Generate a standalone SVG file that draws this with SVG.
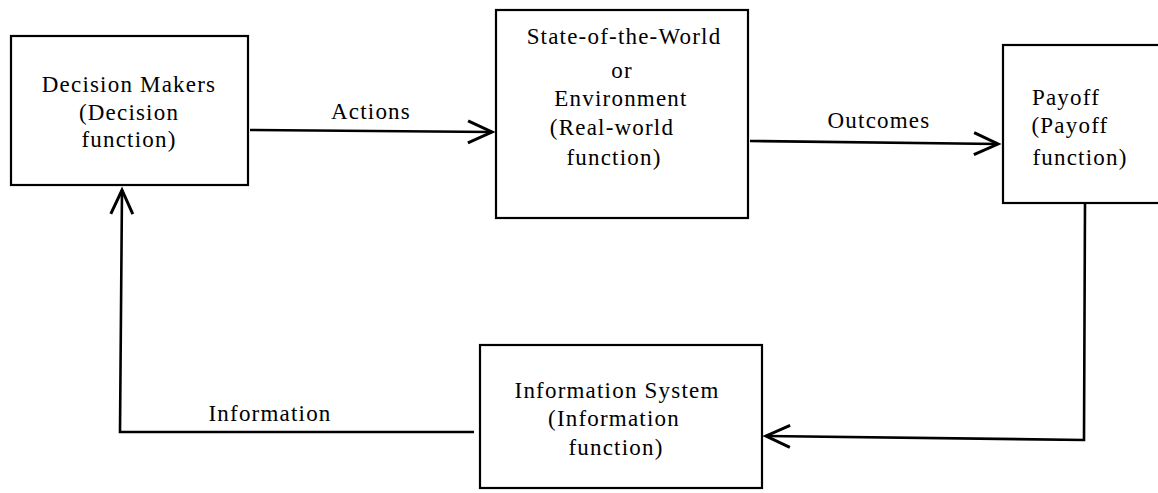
<svg xmlns="http://www.w3.org/2000/svg" width="1158" height="493" viewBox="0 0 1158 493">
<defs>
<style>
.box{fill:#fff;stroke:#000;stroke-width:2.2}
.t{font-family:"Liberation Serif","Times New Roman",serif;font-size:23px;fill:#000;text-anchor:middle;letter-spacing:1.2px}
.c{fill:none;stroke:#000;stroke-width:2.6}
</style>
<marker id="ah" markerUnits="userSpaceOnUse" markerWidth="30" markerHeight="30" viewBox="-26 -13 30 26" refX="0" refY="0" orient="auto">
<path d="M-24,-11 L0,0 L-24,11" fill="none" stroke="#000" stroke-width="3"/>
</marker>
</defs>
<rect width="1158" height="493" fill="#fff"/>
<g id="decision-makers">
<rect class="box" x="11" y="36" width="237" height="149"/>
<text class="t" x="129" y="92">Decision Makers</text>
<text class="t" x="129" y="120">(Decision</text>
<text class="t" x="129" y="147">function)</text>
</g>
<g id="state-of-the-world">
<rect class="box" x="496" y="10" width="252" height="208"/>
<text class="t" x="624" y="44">State-of-the-World</text>
<text class="t" x="622" y="78">or</text>
<text class="t" x="621" y="106">Environment</text>
<text class="t" x="612" y="135">(Real-world</text>
<text class="t" x="614" y="165">function)</text>
</g>
<g id="payoff">
<rect class="box" x="1003" y="45" width="170" height="158"/>
<text class="t" x="1066" y="105">Payoff</text>
<text class="t" x="1070" y="133">(Payoff</text>
<text class="t" x="1080" y="165">function)</text>
</g>
<g id="information-system">
<rect class="box" x="480" y="345" width="282" height="143"/>
<text class="t" x="617" y="398">Information System</text>
<text class="t" x="614" y="426">(Information</text>
<text class="t" x="616" y="455">function)</text>
</g>
<g id="connectors">
<line class="c" x1="250" y1="130" x2="492" y2="132" marker-end="url(#ah)"/>
<line class="c" x1="750" y1="141" x2="998" y2="144" marker-end="url(#ah)"/>
<polyline class="c" points="1085,203 1084,440 766,436" marker-end="url(#ah)"/>
<polyline class="c" points="474,432 120,432 122,190" marker-end="url(#ah)"/>
<text class="t" x="371" y="119">Actions</text>
<text class="t" x="879" y="128">Outcomes</text>
<text class="t" x="270" y="421">Information</text>
</g>
</svg>
